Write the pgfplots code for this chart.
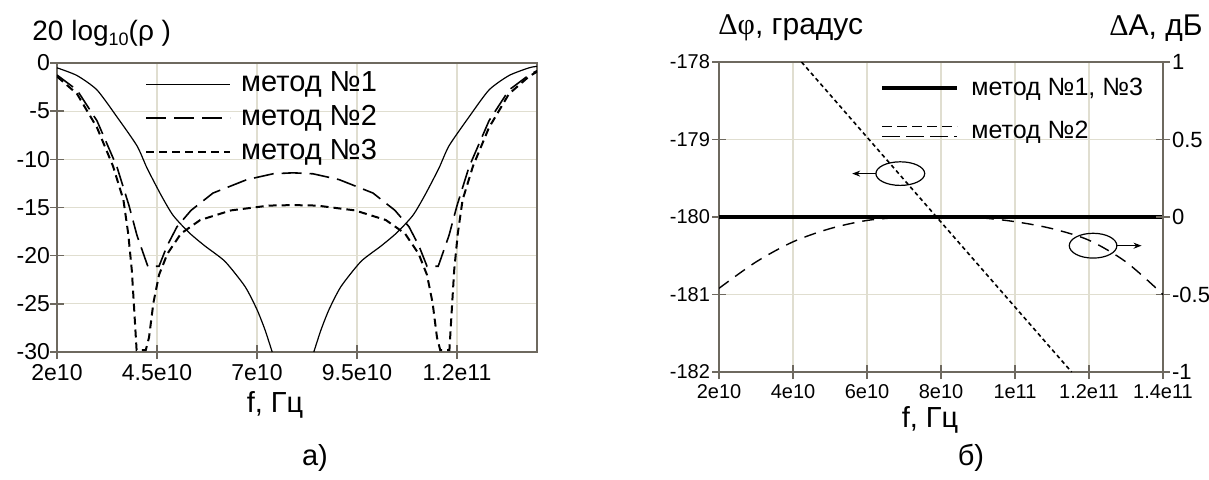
\documentclass[border=0pt]{standalone}
\usepackage{fontspec}
\setmainfont{Liberation Sans}
\newfontfamily\grk{Liberation Serif}
\usepackage{pgfplots}
\pgfplotsset{compat=1.18}
\usetikzlibrary{arrows.meta}

\definecolor{gridc}{RGB}{224,222,208}
\definecolor{axc}{RGB}{110,105,95}

\pgfplotsset{
  common/.style={
    scale only axis, anchor=south west,
    xmin=2, xmax=14,
    grid=major, major grid style={gridc, line width=0.6pt},
    axis line style={axc, line width=0.8pt},
    tick style={axc, line width=0.8pt}, tick align=center, major tick length=7pt,
    tick pos=left,
    /pgf/number format/assume math mode=true,
    legend cell align=left,
  },
}

\begin{document}
\begin{tikzpicture}
\useasboundingbox (0pt,0pt) rectangle (604.5pt,239.5pt);

% ---- a) reflection
\begin{axis}[common,
  at={(28.5pt,63.5pt)}, width=240pt, height=144.5pt,
  ymin=-30, ymax=0,
  xtick={2,4.5,7,9.5,12}, xticklabels={2e10,4.5e10,7e10,9.5e10,1.2e11},
  ytick={0,-5,-10,-15,-20,-25,-30},
  ticklabel style={font=\fontsize{11.5}{12}\selectfont},
  yticklabel style={xshift=3.5pt},
  xticklabel style={yshift=1.5pt, text height=8.5pt, text depth=0pt},
  legend image code/.code={\draw[#1] (0pt,0pt) -- (42pt,0pt);},
  legend style={draw=none, fill=none, at={(0.183,0.975)}, anchor=north west,
    inner sep=0pt, font=\fontsize{14.5}{15}\selectfont, row sep=3.5pt,
    nodes={inner sep=0pt, text height=10.5pt, text depth=3pt},
    /tikz/every odd column/.append style={column sep=5pt}},
]
\addplot[black, line width=0.6pt, smooth, tension=0.4] coordinates {
(2.0,-0.5) (2.5,-1.3) (3.0,-2.8) (3.5,-5.6) (4.0,-8.6) (4.25,-10.9) (4.6,-13.7)
(4.9,-15.8) (5.3,-17.6) (5.7,-19.0) (6.2,-20.6) (6.7,-23.2) (7.0,-25.6) (7.2,-27.7) (7.38,-30)};
\addlegendentry{метод №1}
\addplot[black, line width=0.8pt, dash pattern=on 10pt off 4pt] coordinates {
(2.0,-1.25) (2.5,-2.8) (3.0,-6.0) (3.5,-10.8) (3.8,-14.8) (4.0,-17.9) (4.27,-21.1)
(4.55,-21.1) (4.75,-19.0) (5.0,-17.0) (5.35,-15.3) (5.9,-13.5) (6.75,-12.1) (7.4,-11.5)
(7.9,-11.4) (8.4,-11.5) (9.05,-12.1) (9.9,-13.5) (10.45,-15.3) (10.8,-17.0) (11.05,-19.0)
(11.25,-21.1) (11.53,-21.1) (11.8,-17.9) (12.0,-14.8) (12.3,-10.8) (12.8,-6.0) (13.3,-2.8)
(13.8,-1.25) (14,-0.8)};
\addlegendentry{метод №2}
\addplot[black, line width=1pt, dash pattern=on 4pt off 2.5pt] coordinates {
(2.0,-1.4) (2.5,-3.2) (3.0,-6.7) (3.4,-10.7) (3.66,-14.2) (3.78,-17.7) (3.87,-21.5)
(3.92,-24.9) (3.99,-29.8) (4.22,-29.8) (4.3,-28.5) (4.41,-24.9) (4.55,-22.0) (4.76,-19.8)
(5.1,-17.7) (5.58,-16.3) (6.35,-15.3) (7.3,-14.8) (7.9,-14.75) (8.5,-14.8) (9.45,-15.3)
(10.22,-16.3) (10.7,-17.7) (11.04,-19.8) (11.25,-22.0) (11.39,-24.9) (11.5,-28.5)
(11.58,-29.8) (11.81,-29.8) (11.88,-24.9) (11.93,-21.5) (12.02,-17.7) (12.14,-14.2)
(12.4,-10.7) (12.8,-6.7) (13.3,-3.2) (13.8,-1.4) (14,-0.9)};
\addlegendentry{метод №3}
\addplot[black, line width=0.6pt, smooth, tension=0.4, forget plot] coordinates {
(8.42,-30) (8.6,-27.7) (8.8,-25.6) (9.1,-23.2) (9.6,-20.6) (10.1,-19.0) (10.5,-17.6)
(10.9,-15.8) (11.2,-13.7) (11.55,-10.9) (11.8,-8.6) (12.3,-5.6) (12.8,-2.8) (13.3,-1.3)
(13.8,-0.5) (14,-0.35)};
\end{axis}

% ---- b) phase and amplitude
\begin{axis}[common,
  at={(359.5pt,53.5pt)}, width=222pt, height=155pt,
  ymin=-182, ymax=-178,
  xtick={2,4,6,8,10,12,14}, xticklabels={2e10,4e10,6e10,8e10,1e11,1.2e11,1.4e11},
  ytick={-182,-181,-180,-179,-178},
  ticklabel style={font=\fontsize{10}{11}\selectfont},
  yticklabel style={xshift=2.5pt},
  xticklabel style={yshift=1.5pt, text height=7.5pt, text depth=0pt},
  legend image code/.code={\draw[#1] (0pt,0pt) -- (37.5pt,0pt);},
  legend style={draw=none, fill=none, at={(0.3626,0.96)}, anchor=north west,
    inner sep=0pt, font=\fontsize{12.5}{13}\selectfont, row sep=8pt,
    nodes={inner sep=0pt, text height=10.5pt, text depth=3pt},
    /tikz/every odd column/.append style={column sep=6pt}},
]
\addplot[black, line width=2pt] coordinates {(2,-180) (14,-180)};
\addlegendentry{метод №1, №3}
\addplot[black, line width=0.8pt, dash pattern=on 2pt off 1.6pt, forget plot] coordinates {
(4.23,-178) (11.53,-182)};
\addlegendimage{legend image code/.code={%
\draw[black, line width=0.8pt, dash pattern=on 5pt off 2.5pt] (0pt,2.5pt) -- (37.5pt,2.5pt);%
\draw[black, line width=0.8pt, dash pattern=on 9pt off 3pt] (0pt,-2.5pt) -- (37.5pt,-2.5pt);}}
\addlegendentry{метод №2}
\draw[black, line width=0.6pt] (axis cs:6.9,-179.44) ellipse [x radius=12.2pt, y radius=5.9pt];
\draw[black, line width=0.6pt, -{Stealth[length=4pt,width=3pt]}] (axis cs:6.235,-179.44) -- (axis cs:5.6,-179.44);
\draw[black, line width=0.6pt] (axis cs:12.11,-180.37) ellipse [x radius=11.9pt, y radius=6.2pt];
\draw[black, line width=0.6pt, -{Stealth[length=4pt,width=3pt]}] (axis cs:12.74,-180.37) -- (axis cs:13.42,-180.37);
\end{axis}

\begin{axis}[
  scale only axis, anchor=south west,
  at={(359.5pt,53.5pt)}, width=222pt, height=155pt,
  xmin=2, xmax=14, ymin=-1, ymax=1,
  axis x line=none, axis y line*=right,
  axis line style={axc, line width=0.8pt},
  tick style={axc, line width=0.8pt}, tick align=center, major tick length=7pt,
  ytick={-1,-0.5,0,0.5,1},
  yticklabels={-1,-0.5,0,0.5,1},
  ticklabel style={font=\fontsize{11}{12}\selectfont},
  yticklabel style={xshift=-2.5pt},
]
\addplot[black, line width=0.7pt, dash pattern=on 6pt off 4pt, smooth] coordinates {
(2,-0.46) (3,-0.29) (4,-0.16) (5,-0.075) (6,-0.022) (7,-0.002) (8,0) (9,-0.004)
(10,-0.03) (11,-0.075) (12,-0.15) (13,-0.29) (14,-0.5)};
\end{axis}

% labels
\node[anchor=base west, inner sep=0pt, font=\fontsize{14}{15}\selectfont] at (16pt,219.5pt)
  {20 log\raisebox{-0.35ex}{\fontsize{9}{10}\selectfont 10}(ρ )};
\node[font=\fontsize{14.5}{15}\selectfont] at (137.5pt,37pt) {f, Гц};
\node[font=\fontsize{14.5}{15}\selectfont] at (157.5pt,10.5pt) {а)};
\node[anchor=west, inner sep=0pt, font=\fontsize{15}{16}\selectfont] at (359pt,225.5pt) {{\grk Δφ}, градус};
\node[anchor=west, inner sep=0pt, font=\fontsize{15}{16}\selectfont] at (554.5pt,225.5pt) {{\grk Δ}A, дБ};
\node[font=\fontsize{14.5}{15}\selectfont] at (465pt,29.5pt) {f, Гц};
\node[font=\fontsize{14.5}{15}\selectfont] at (485.5pt,10.5pt) {б)};
\end{tikzpicture}
\end{document}
